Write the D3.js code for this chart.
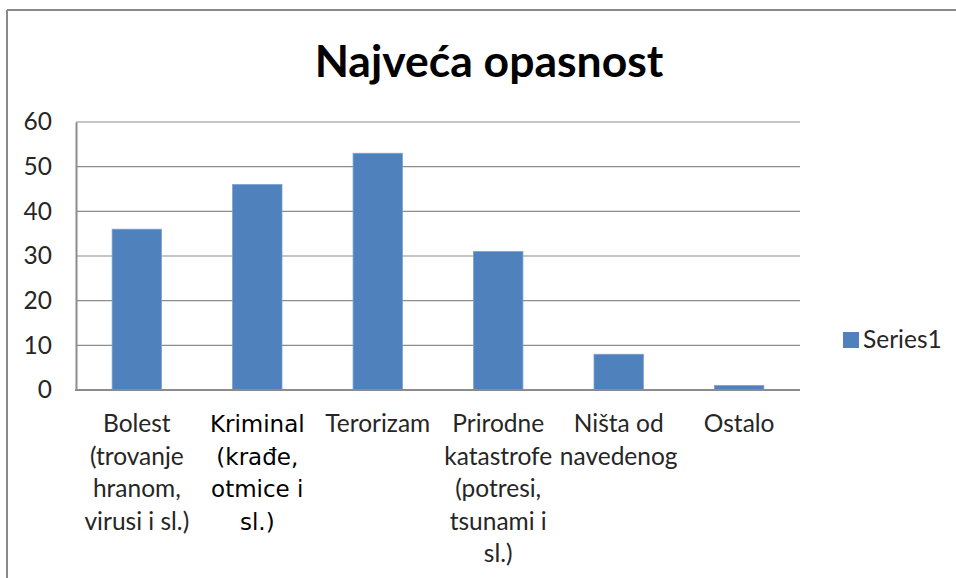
<!DOCTYPE html>
<html>
<head>
<meta charset="utf-8">
<script src="https://cdn.jsdelivr.net/npm/d3@7"></script>
<style>
  html, body { margin: 0; padding: 0; background: #fff; }
</style>
</head>
<body>
<div id="chart"></div>
<script>
// Najveća opasnost - column chart

const categories = ["Bolest", "Kriminal", "Terorizam", "Prirodne", "Ništa od", "Ostalo"];
const categoryLines = [
    ["Bolest", "(trovanje", "hranom,", "virusi i sl.)"],
    ["Kriminal", "(krađe,", "otmice i", "sl.)"],
    ["Terorizam"],
    ["Prirodne", "katastrofe", "(potresi,", "tsunami i", "sl.)"],
    ["Ništa od", "navedenog"],
    ["Ostalo"]
];
const values = [36, 46, 53, 31, 8, 1];
const yTicks = [0, 10, 20, 30, 40, 50, 60];
const seriesName = "Series1";
const title = "Najveća opasnost";

const width = 956, height = 578;
const margin = { top: 122, right: 156, bottom: 188, left: 76 };
const baseFont = "Lato, 'Open Sans', sans-serif";

const svg = d3.select("#chart")
    .append("svg")
    .attr("width", width)
    .attr("height", height)
    .style("font-family", baseFont);

// Outer frame (only top and left edges visible in the crop)
svg.append("line")
    .attr("x1", 7).attr("x2", width).attr("y1", 10).attr("y2", 10)
    .attr("stroke", "#8a8a8a").attr("stroke-width", 2);
svg.append("line")
    .attr("x1", 7).attr("x2", 7).attr("y1", 10).attr("y2", height)
    .attr("stroke", "#8a8a8a").attr("stroke-width", 2);

const x = d3.scaleBand()
    .domain(categories)
    .range([margin.left, width - margin.right])
    .paddingInner(0.59)
    .paddingOuter(0.3);

const y = d3.scaleLinear()
    .domain([0, 60])
    .range([height - margin.bottom, margin.top]);

// Gridlines
svg.append("g")
    .selectAll("line")
    .data(yTicks.filter(d => d > 0))
    .enter().append("line")
    .attr("x1", margin.left)
    .attr("x2", width - margin.right)
    .attr("y1", d => y(d))
    .attr("y2", d => y(d))
    .attr("stroke", "#8c8c8c")
    .attr("stroke-width", 1.2);

// Bars
svg.selectAll(".bar")
    .data(values)
    .enter().append("rect")
    .attr("class", "bar")
    .attr("x", (d, i) => x(categories[i]))
    .attr("y", d => y(d))
    .attr("width", x.bandwidth())
    .attr("height", d => y(0) - y(d))
    .attr("fill", "#4f81bd")
    .attr("stroke", "#7aa0d0")
    .attr("stroke-width", 0.8);

// Y axis
const yAxis = d3.axisLeft(y)
    .tickValues(yTicks)
    .tickSize(0)
    .tickPadding(24);

svg.append("g")
    .attr("transform", `translate(${margin.left},0)`)
    .call(yAxis)
    .call(g => g.select(".domain").attr("stroke", "#8c8c8c").attr("stroke-width", 2))
    .call(g => g.selectAll(".tick text")
        .style("font-family", baseFont)
        .style("font-size", "24.5px")
        .attr("fill", "#262626"));

// X axis baseline
svg.append("line")
    .attr("x1", margin.left - 1)
    .attr("x2", width - margin.right)
    .attr("y1", y(0))
    .attr("y2", y(0))
    .attr("stroke", "#8c8c8c")
    .attr("stroke-width", 2);

// Category labels (the second one uses a different font in the original)
const labels = svg.append("g")
    .selectAll("text")
    .data(categoryLines)
    .enter().append("text")
    .attr("text-anchor", "middle")
    .style("font-size", (d, i) => i === 1 ? "23px" : "24.5px")
    .style("font-family", (d, i) => i === 1 ? "'DejaVu Sans', sans-serif" : baseFont)
    .attr("fill", (d, i) => i === 1 ? "#000" : "#262626");

labels.selectAll("tspan")
    .data((d, i) => d.map(t => ({ t, i })))
    .enter().append("tspan")
    .attr("x", d => x(categories[d.i]) + x.bandwidth() / 2)
    .attr("y", (d, j) => 432 + j * 32.5)
    .text(d => d.t);

// Title
svg.append("text")
    .attr("x", 489)
    .attr("y", 77)
    .attr("text-anchor", "middle")
    .style("font-size", "44.5px")
    .style("font-weight", "bold")
    .attr("fill", "#000")
    .text(title);

// Legend
const legend = svg.append("g").attr("transform", "translate(843,332)");
legend.append("rect")
    .attr("width", 16).attr("height", 16)
    .attr("fill", "#4f81bd");
legend.append("text")
    .attr("x", 20).attr("y", 16)
    .style("font-size", "24.5px")
    .attr("fill", "#262626")
    .text(seriesName);
</script>
</body>
</html>
